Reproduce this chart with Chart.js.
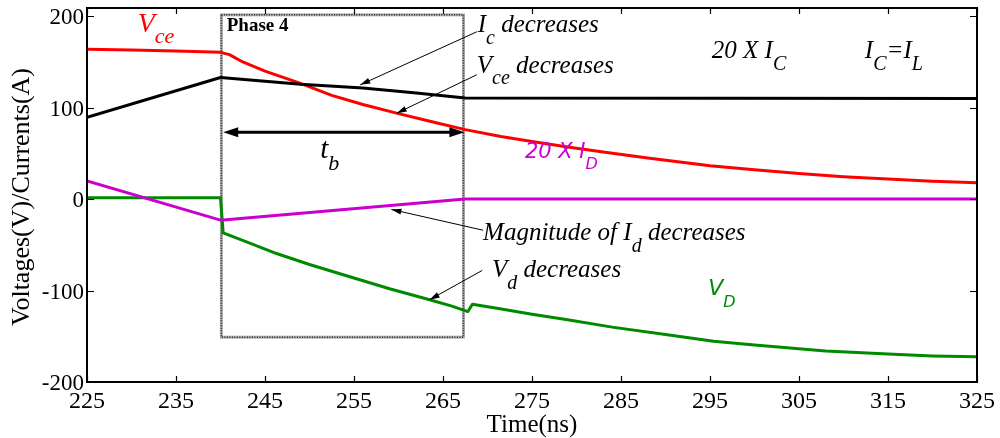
<!DOCTYPE html>
<html>
<head>
<meta charset="utf-8">
<script src="https://cdn.jsdelivr.net/npm/chart.js@4.4.1/dist/chart.umd.min.js"></script>
<style>
  html, body { margin: 0; padding: 0; background: #ffffff; }
  #wrap { width: 1000px; height: 438px; position: relative; }
</style>
</head>
<body>
<div id="wrap"><canvas id="c" width="1000" height="438"></canvas></div>
<script>
// ---------------- data ----------------
const xTicks = [225, 235, 245, 255, 265, 275, 285, 295, 305, 315, 325];
const yTicks = [-200, -100, 0, 100, 200];

// V_ce (red)
const vceTime  = [225, 230, 235, 240, 241, 242.5, 245, 249, 252.5, 256, 260, 264, 267.5, 271.5, 275, 279, 283, 288, 295, 300, 305, 310, 315, 320, 325];
const vceValue = [164, 163, 162, 160.5, 158, 150, 140, 126.5, 113.5, 103.5, 93.5, 84, 76, 68.5, 63, 57, 51.5, 45, 36.5, 32, 28, 24.5, 22, 19.5, 18];

// 20 x I_C (black)
const icTime  = [225, 240, 249, 256, 262, 267.5, 325];
const icValue = [89.5, 133, 125.5, 121.5, 116, 110.5, 110];

// 20 x I_D (magenta)
const idTime  = [225, 240, 267.5, 325];
const idValue = [20, -23, 0, 0];

// V_D (green)
const vdTime  = [225, 240, 240.3, 243, 246.3, 250, 254.9, 259, 263.5, 266, 267.8, 268.3, 271.4, 275, 279, 284, 290, 295.4, 300, 308, 315, 320, 325];
const vdValue = [1.5, 1.5, -37, -47, -59.5, -71.5, -86, -98, -110, -117, -123, -115, -120, -126, -132, -140, -148, -155.5, -159.5, -166, -169.5, -171.5, -172.5];

// Phase 4 window (time start/end, value bottom/top)
const phaseTime  = [240.1, 267.3];
const phaseValue = [-151, 201.5];

// ---------------- helpers ----------------
const pts = (t, v) => t.map((x, i) => ({ x: x, y: v[i] }));
const SERIF = '"Liberation Serif", "Times New Roman", serif';
const SANS = '"DejaVu Sans", sans-serif';

// Annotation texts, anchored in data coordinates (left x, baseline y)
const notes = [
  { t: 230.7, v: 183, color: '#ff0000', font: SERIF, size: 28, sub: 22, off: 11,
    parts: [['V', 0], ['ce', 1]] },
  { t: 240.7, v: 183.5, color: '#000', font: SERIF, size: 19, bold: true, italic: false,
    parts: [['Phase 4', 0]] },
  { t: 268.9, v: 182.6, color: '#000', font: SERIF, size: 25, sub: 20, off: 12,
    parts: [['I', 0], ['c', 1], [' decreases', 0]] },
  { t: 268.8, v: 137.7, color: '#000', font: SERIF, size: 25, sub: 20, off: 11,
    parts: [['V', 0], ['ce', 1], [' decreases', 0]] },
  { t: 295.2, v: 154, color: '#000', font: SERIF, size: 25, sub: 20, off: 12,
    parts: [['20 X I', 0], ['C', 1]] },
  { t: 312.4, v: 154, color: '#000', font: SERIF, size: 25, sub: 20, off: 12,
    parts: [['I', 0], ['C', 1], ['=I', 0], ['L', 1]] },
  { t: 251.2, v: 45, color: '#000', font: SERIF, size: 29, sub: 22, off: 12,
    parts: [['t', 0], ['b', 1]] },
  { t: 274.2, v: 45, color: '#cc00cc', font: SANS, size: 21, sub: 16, off: 11,
    parts: [['20 X I', 0], ['D', 1]] },
  { t: 269.5, v: -45, color: '#000', font: SERIF, size: 25, sub: 20, off: 12,
    parts: [['Magnitude of I', 0], ['d', 1], [' decreases', 0]] },
  { t: 270.5, v: -85, color: '#000', font: SERIF, size: 25, sub: 20, off: 12,
    parts: [['V', 0], ['d', 1], [' decreases', 0]] },
  { t: 294.8, v: -105, color: '#008a00', font: SANS, size: 22, sub: 16, off: 12,
    parts: [['V', 0], ['D', 1]] }
];

// Thin pointer arrows: from (t0,v0) to head (t1,v1)
const arrows = [
  { t0: 268.8, v0: 183, t1: 255.7, v1: 125 },
  { t0: 268.8, v0: 136, t1: 259.8, v1: 94 },
  { t0: 269.5, v0: -34, t1: 259.2, v1: -11.3 },
  { t0: 269.4, v0: -78, t1: 263.5, v1: -110 }
];
// t_b double arrow
const tbArrow = { t0: 240.3, t1: 267.4, v: 73 };

function drawRich(ctx, x, y, n) {
  let cx = x;
  ctx.fillStyle = n.color;
  ctx.textBaseline = 'alphabetic';
  ctx.textAlign = 'left';
  const style = (n.italic === false ? '' : 'italic ') + (n.bold ? 'bold ' : '');
  for (const [txt, isSub] of n.parts) {
    if (isSub) {
      ctx.font = style + n.sub + 'px ' + n.font;
      ctx.fillText(txt, cx, y + n.off);
    } else {
      ctx.font = style + n.size + 'px ' + n.font;
      ctx.fillText(txt, cx, y);
    }
    cx += ctx.measureText(txt).width;
  }
}

function arrowHead(ctx, x0, y0, x1, y1, len, wid) {
  const a = Math.atan2(y1 - y0, x1 - x0);
  ctx.beginPath();
  ctx.moveTo(x1, y1);
  ctx.lineTo(x1 - len * Math.cos(a) + wid * Math.sin(a), y1 - len * Math.sin(a) - wid * Math.cos(a));
  ctx.lineTo(x1 - len * Math.cos(a) - wid * Math.sin(a), y1 - len * Math.sin(a) + wid * Math.cos(a));
  ctx.closePath();
  ctx.fill();
}

const decor = {
  id: 'decor',
  beforeDatasetsDraw(chart) {
    const { ctx, scales: { x, y } } = chart;
    const l = x.getPixelForValue(phaseTime[0]), r = x.getPixelForValue(phaseTime[1]);
    const t = y.getPixelForValue(phaseValue[1]), b = y.getPixelForValue(phaseValue[0]);
    ctx.save();
    ctx.strokeStyle = '#b0b0b0';
    ctx.lineWidth = 3;
    ctx.strokeRect(l, t, r - l, b - t);
    ctx.strokeStyle = '#222';
    ctx.lineWidth = 1.5;
    ctx.setLineDash([1, 1.5]);
    ctx.strokeRect(l, t, r - l, b - t);
    ctx.restore();
  },
  afterDatasetsDraw(chart) {
    const { ctx, chartArea: ca, scales: { x, y } } = chart;
    ctx.save();
    // frame
    ctx.strokeStyle = '#000';
    ctx.lineWidth = 2;
    ctx.strokeRect(ca.left, ca.top, ca.right - ca.left, ca.bottom - ca.top);
    // inward ticks on all four sides
    ctx.lineWidth = 1.2;
    ctx.beginPath();
    for (const tv of xTicks) {
      const px = Math.round(x.getPixelForValue(tv)) + 0.5;
      ctx.moveTo(px, ca.bottom); ctx.lineTo(px, ca.bottom - 6);
      ctx.moveTo(px, ca.top); ctx.lineTo(px, ca.top + 6);
    }
    for (const tv of yTicks) {
      const py = Math.round(y.getPixelForValue(tv)) + 0.5;
      ctx.moveTo(ca.left, py); ctx.lineTo(ca.left + 7, py);
      ctx.moveTo(ca.right, py); ctx.lineTo(ca.right - 7, py);
    }
    ctx.stroke();

    // tick labels
    ctx.fillStyle = '#000';
    ctx.textBaseline = 'alphabetic';
    ctx.font = '24px ' + SERIF;
    ctx.textAlign = 'center';
    for (const tv of xTicks) {
      ctx.fillText(String(tv), x.getPixelForValue(tv), ca.bottom + 26);
    }
    ctx.font = '23px ' + SERIF;
    ctx.textAlign = 'right';
    for (const tv of yTicks) {
      ctx.fillText(String(tv), ca.left - 3, y.getPixelForValue(tv) + 8);
    }

    // pointer arrows
    ctx.strokeStyle = '#000';
    ctx.fillStyle = '#000';
    ctx.lineWidth = 1;
    for (const a of arrows) {
      const x0 = x.getPixelForValue(a.t0), y0 = y.getPixelForValue(a.v0);
      const x1 = x.getPixelForValue(a.t1), y1 = y.getPixelForValue(a.v1);
      ctx.beginPath(); ctx.moveTo(x0, y0); ctx.lineTo(x1, y1); ctx.stroke();
      arrowHead(ctx, x0, y0, x1, y1, 10, 3);
    }
    // t_b double arrow
    const ax0 = x.getPixelForValue(tbArrow.t0), ax1 = x.getPixelForValue(tbArrow.t1);
    const ay = y.getPixelForValue(tbArrow.v);
    ctx.lineWidth = 3;
    ctx.beginPath(); ctx.moveTo(ax0 + 8, ay); ctx.lineTo(ax1 - 8, ay); ctx.stroke();
    arrowHead(ctx, ax1, ay, ax0, ay, 15, 5);
    arrowHead(ctx, ax0, ay, ax1, ay, 15, 5);

    // texts
    for (const n of notes) {
      drawRich(ctx, x.getPixelForValue(n.t), y.getPixelForValue(n.v), n);
    }
    ctx.restore();
  },
  afterDraw(chart) {
    const { ctx, chartArea: ca } = chart;
    ctx.save();
    ctx.fillStyle = '#000';
    ctx.font = '26px ' + SERIF;
    ctx.textAlign = 'center';
    ctx.textBaseline = 'middle';
    ctx.translate(22, 197);
    ctx.rotate(-Math.PI / 2);
    ctx.fillText('Voltages(V)/Currents(A)', 0, 0);
    ctx.restore();
    ctx.save();
    ctx.fillStyle = '#000';
    ctx.font = '25px ' + SERIF;
    ctx.textAlign = 'center';
    ctx.textBaseline = 'alphabetic';
    ctx.fillText('Time(ns)', (ca.left + ca.right) / 2, 432);
    ctx.restore();
  }
};

const lineDs = (label, data, color) => ({
  label, data, borderColor: color, backgroundColor: color,
  borderWidth: 3, pointRadius: 0, tension: 0, fill: false,
  borderJoinStyle: 'round'
});

new Chart(document.getElementById('c'), {
  type: 'line',
  data: {
    datasets: [
      lineDs('20 X IC', pts(icTime, icValue), '#000000'),
      lineDs('20 X ID', pts(idTime, idValue), '#cc00cc'),
      lineDs('VD', pts(vdTime, vdValue), '#008a00'),
      lineDs('Vce', pts(vceTime, vceValue), '#ff0000')
    ]
  },
  options: {
    responsive: false,
    animation: false,
    devicePixelRatio: 1,
    layout: { padding: { top: 8, right: 23, left: 0, bottom: 0 } },
    plugins: { legend: { display: false }, tooltip: { enabled: false } },
    scales: {
      x: {
        type: 'linear', min: 225, max: 325,
        afterBuildTicks: s => { s.ticks = xTicks.map(v => ({ value: v })); },
        afterFit: s => { s.height = 56; },
        grid: { display: false, drawTicks: false },
        border: { display: false },
        ticks: { display: false }
      },
      y: {
        type: 'linear', min: -200, max: 209,
        afterBuildTicks: s => { s.ticks = yTicks.map(v => ({ value: v })); },
        afterFit: s => { s.width = 87; },
        grid: { display: false, drawTicks: false },
        border: { display: false },
        ticks: { display: false }
      }
    }
  },
  plugins: [decor]
});
</script>
</body>
</html>
